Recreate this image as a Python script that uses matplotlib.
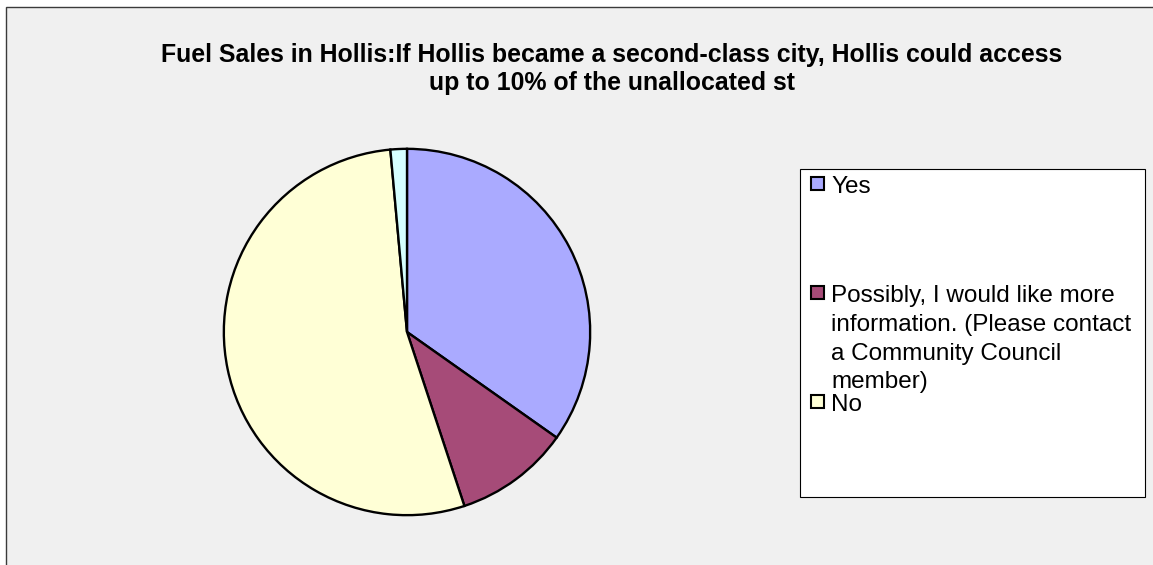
import matplotlib.pyplot as plt
from matplotlib.patches import Rectangle

# survey answers
answers = ["Yes",
           "Possibly, I would like more\ninformation. (Please contact\na Community Council\nmember)",
           "No",
           "Other"]
counts = [24, 7, 37, 1]
colors = ["#AAAAFF", "#A64B78", "#FFFFD6", "#D5FFFF"]
title = ("Fuel Sales in Hollis:If Hollis became a second-class city, Hollis could access\n"
         "up to 10% of the unallocated st")

W, H = 1153, 565
plt.rcParams['font.family'] = ['Liberation Sans', 'DejaVu Sans']
fig = plt.figure(figsize=(W / 100, H / 100), dpi=100)
fig.patch.set_facecolor("white")


def fx(px):
    return px / W


def fy(py):
    return 1 - py / H


# chart area background + border
fig.patches.append(Rectangle((fx(6), fy(570)), fx(1160) - fx(6), fy(7) - fy(570),
                             transform=fig.transFigure, facecolor="#F0F0F0",
                             edgecolor="#3a3a3a", linewidth=1.0, zorder=-10))

# pie
cx, cy, r = 407, 332, 185
ax = fig.add_axes([fx(cx - r), fy(cy + r), (2 * r) / W, (2 * r) / H])
ax.pie(counts, colors=colors, startangle=90, counterclock=False,
       wedgeprops=dict(edgecolor="black", linewidth=1.7))
ax.set_xlim(-1.01, 1.01)
ax.set_ylim(-1.01, 1.01)
ax.set_aspect("equal")
ax.axis("off")

fig.text(fx(612), fy(43), title, ha="center", va="top", fontsize=17.9,
         fontweight="bold", linespacing=1.2)

# legend box (only first three entries visible)
fig.patches.append(Rectangle((fx(800), fy(497)), fx(1145) - fx(800), fy(169) - fy(497),
                             transform=fig.transFigure, facecolor="white",
                             edgecolor="black", linewidth=0.8, zorder=1))
rows_y = [177, 286, 395]
for label, col, y in zip(answers[:3], colors[:3], rows_y):
    fig.patches.append(Rectangle((fx(811), fy(y + 13)), 13 / W, 13 / H,
                                 transform=fig.transFigure, facecolor=col,
                                 edgecolor="black", linewidth=1.5, zorder=2))
    fig.text(fx(831), fy(y - 1), label, ha="left", va="top", fontsize=17.5,
             linespacing=1.40, zorder=3)

fig.savefig("out.png", dpi=100)
